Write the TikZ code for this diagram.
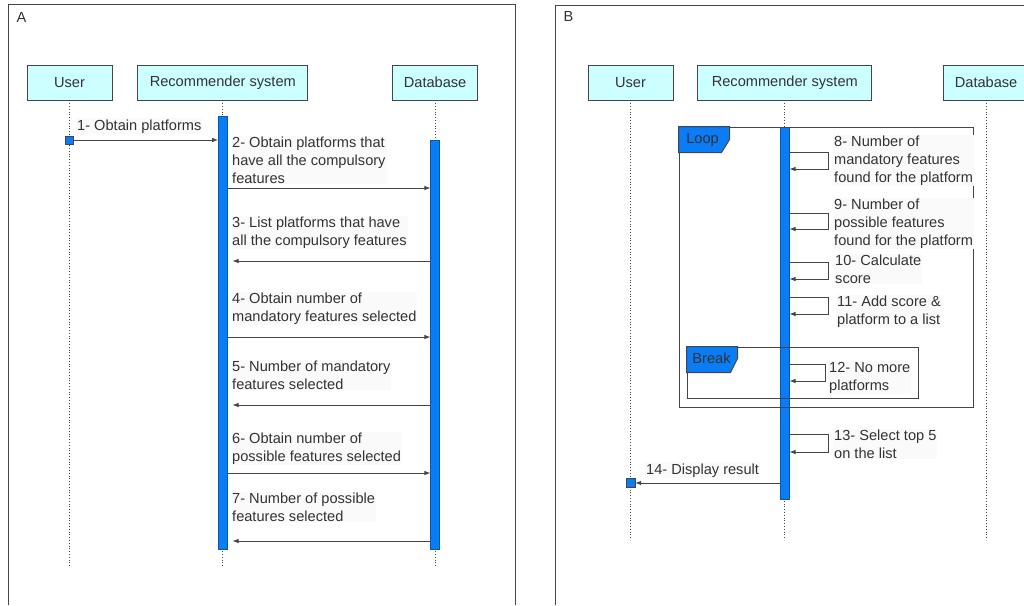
\documentclass[tikz,border=0pt]{standalone}
\usepackage{fontspec}
\setmainfont{Liberation Sans}
\definecolor{SeqBlue}{HTML}{0A7CF5}
\definecolor{SeqCyan}{HTML}{CCFFFF}
\definecolor{SeqLine}{HTML}{454545}
\definecolor{SeqText}{HTML}{333333}
\usetikzlibrary{positioning,arrows.meta,calc}

\begin{document}
\begin{tikzpicture}[x=1pt, y=-1pt,
    every node/.style={font=\fontsize{14.6}{17.8}\selectfont, text=SeqText},
    actor/.style={draw=SeqLine, fill=SeqCyan, minimum height=35, line width=0.8pt},
    bar/.style={draw=SeqBlue!70!black, fill=SeqBlue, minimum width=9, inner sep=0pt},
    life/.style={draw=SeqLine, dotted, line width=0.8pt},
    msg/.style={draw=SeqLine, line width=0.8pt, -{Latex[length=6pt, width=4.5pt]}},
    ret/.style={msg, shorten >=5pt},
    lbl/.style={anchor=base west, align=left, fill=black!2, inner sep=1pt},
    frame/.style={draw=SeqLine, line width=0.9pt, inner sep=0pt},
    tab/.style={draw=SeqLine, fill=SeqBlue, line width=0.9pt}]
    \useasboundingbox (0,0) rectangle (1024,605);

    % panel A
    \draw[SeqLine, line width=0.9pt] (8,605) -- (8,4) -- (515,4) -- (515,605);
    \node[anchor=base west] (labA) at (13,22) {A};
    \node[actor, minimum width=85] (userA) at (69.5,82.5) {User};
    \node[actor, minimum width=170, right=25pt of userA] (recA) {Recommender system};
    \node[actor, minimum width=85, right=84pt of recA] (dbA) {Database};
    \coordinate (endA) at (0,567);
    \draw[life] (userA.south) -- (userA.south |- endA);
    \draw[life] (recA.south) -- (recA.south |- endA);
    \draw[life] (dbA.south) -- (dbA.south |- endA);
    \node[bar, minimum height=433] (barRA) at (recA.south |- 0,332.5) {};
    \node[bar, minimum height=409] (barDA) at (dbA.south |- 0,344.5) {};
    \node[draw=SeqLine, fill=SeqBlue, minimum size=8, inner sep=0pt] (sqA) at (userA.south |- 0,140) {};

    % labels sit on the baseline of their last line
    \draw[msg] (sqA.east) -- (barRA.west |- sqA);
    \node[lbl] (t1) at (76,130) {1- Obtain platforms};
    \draw[msg] (barRA.east |- 0,188) -- (barDA.west |- 0,188);
    \node[lbl] (t2) at (231,183) {2- Obtain platforms that\\have all the compulsory\\features};
    \draw[ret] (barDA.west |- 0,261) -- (barRA.east |- 0,261);
    \node[lbl] (t3) at (231,245) {3- List platforms that have\\all the compulsory features};
    \draw[msg] (barRA.east |- 0,337) -- (barDA.west |- 0,337);
    \node[lbl] (t4) at (231,321) {4- Obtain number of\\mandatory features selected};
    \draw[ret] (barDA.west |- 0,405) -- (barRA.east |- 0,405);
    \node[lbl] (t5) at (231,389) {5- Number of mandatory\\features selected};
    \draw[msg] (barRA.east |- 0,473) -- (barDA.west |- 0,473);
    \node[lbl] (t6) at (231,461) {6- Obtain number of\\possible features selected};
    \draw[ret] (barDA.west |- 0,541) -- (barRA.east |- 0,541);
    \node[lbl] (t7) at (231,521) {7- Number of possible\\features selected};

    % panel B
    \draw[SeqLine, line width=0.9pt] (555,605) -- (555,5) -- (1024,5);
    \node[anchor=base west] (labB) at (560,21) {B};
    \node[actor, minimum width=85] (userB) at (630.5,82.5) {User};
    \node[actor, minimum width=174, right=24pt of userB] (recB) {Recommender system};
    \node[actor, minimum width=85, right=71pt of recB] (dbB) {Database};
    \coordinate (endB) at (0,540);
    \draw[life] (userB.south) -- (userB.south |- endB);
    \draw[life] (recB.south) -- (recB.south |- endB);
    \draw[life] (dbB.south) -- (dbB.south |- endB);
    \node[bar, minimum height=372] (barRB) at (recB.south |- 0,313) {};

    \node[frame, minimum width=294, minimum height=280] (loop) at (826,267) {};
    \draw[tab] (loop.north west) -- ++(51,0) -- ++(0,13) -- ++(-8,13) -- ++(-43,0) -- cycle;
    \node (loopT) at ($(loop.north west)+(24,13)$) {Loop};
    \node[frame, minimum width=231, minimum height=51] (brk) at (802.5,372.5) {};
    \draw[tab] (brk.north west) -- ++(51,0) -- ++(0,12) -- ++(-7,14) -- ++(-44,0) -- cycle;
    \node (brkT) at ($(brk.north west)+(25,12)$) {Break};

    \draw[msg] (barRB.east |- 0,152) -- ++(39,0) |- (barRB.east |- 0,169);
    \node[lbl] (t8) at (833,182) {8- Number of\\mandatory features\\found for the platform};
    \draw[msg] (barRB.east |- 0,213) -- ++(39,0) |- (barRB.east |- 0,229);
    \node[lbl] (t9) at (833,245) {9- Number of\\possible features\\found for the platform};
    \draw[msg] (barRB.east |- 0,262) -- ++(39,0) |- (barRB.east |- 0,279);
    \node[lbl] (t10) at (834,283) {10- Calculate\\score};
    \draw[msg] (barRB.east |- 0,297) -- ++(39,0) |- (barRB.east |- 0,314);
    \node[lbl] (t11) at (836,324) {11- Add score \&\\platform to a list};
    \draw[msg] (barRB.east |- 0,364) -- ++(36,0) |- (barRB.east |- 0,381);
    \node[lbl] (t12) at (828,390) {12- No more\\platforms};
    \draw[msg] (barRB.east |- 0,434) -- ++(39,0) |- (barRB.east |- 0,452);
    \node[lbl] (t13) at (833,458) {13- Select top 5\\on the list};
    \node[draw=SeqLine, fill=SeqBlue, minimum size=9, inner sep=0pt] (sqB) at (userB.south |- 0,483) {};
    \draw[msg] (barRB.west |- sqB) -- (sqB.east);
    \node[lbl] (t14) at (645,474) {14- Display result};
\end{tikzpicture}
\end{document}
